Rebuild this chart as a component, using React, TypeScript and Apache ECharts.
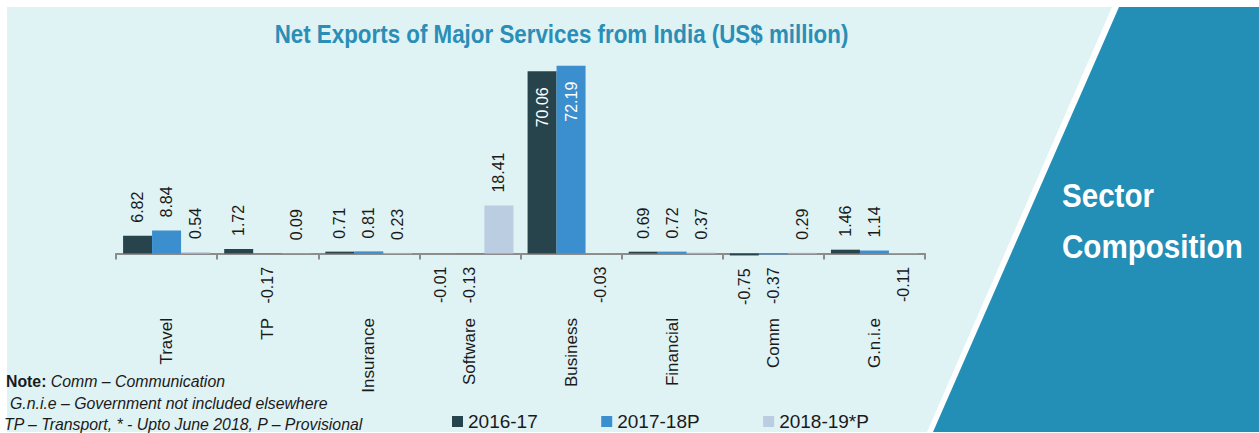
import React, { useEffect, useRef } from "react";
import * as echarts from "echarts";

const categories = ["Travel", "TP", "Insurance", "Software", "Business", "Financial", "Comm", "G.n.i.e"];
const seriesNames = ["2016-17", "2017-18P", "2018-19*P"];
const fy1617 = [6.82, 1.72, 0.71, -0.01, 70.06, 0.69, -0.75, 1.46];
const fy1718 = [8.84, -0.17, 0.81, -0.13, 72.19, 0.72, -0.37, 1.14];
const fy1819 = [0.54, 0.09, 0.23, 18.41, -0.03, 0.37, 0.29, -0.11];
const seriesColors = ["#27434b", "#3b8fcf", "#bacde1"];

const titleText = "Net Exports of Major Services from India (US$ million)";
const noteLines = [
  "G.n.i.e – Government not included elsewhere",
  "TP – Transport, * - Upto June 2018, P – Provisional",
];

const FONT = "'Liberation Sans', Arial, sans-serif";

function toItems(values: number[]) {
  return values.map((v) => {
    if (v > 50) {
      return {
        value: v,
        label: { position: "insideTop", align: "right", verticalAlign: "middle", color: "#ffffff", distance: 16 },
      };
    }
    if (v < 0) {
      return {
        value: v,
        label: { position: "bottom", align: "right", verticalAlign: "middle", distance: 13 },
      };
    }
    return {
      value: v,
      label: { position: "top", align: "left", verticalAlign: "middle", distance: 13 },
    };
  });
}

export default function App() {
  const ref = useRef<HTMLDivElement>(null);
  useEffect(() => {
    if (!ref.current) return;
    const chart = echarts.init(ref.current, null, { renderer: "svg" });
    const allSeries = [fy1617, fy1718, fy1819];
    chart.setOption({
      animation: false,
      backgroundColor: "#ffffff",
      graphic: [
        {
          type: "polygon",
          z: -10,
          silent: true,
          shape: { points: [[7, 7], [1112, 7], [927, 432], [7, 432]] },
          style: { fill: "#dff2f4" },
        },
        {
          type: "polygon",
          z: -10,
          silent: true,
          shape: { points: [[1119, 7], [1259, 7], [1259, 432], [933, 432]] },
          style: { fill: "#238eb6" },
        },
        {
          type: "text",
          x: 561.5,
          y: 34,
          scaleX: 0.86,
          z: 10,
          style: {
            text: titleText,
            fill: "#2a8eb6",
            font: `bold 26px ${FONT}`,
            align: "center",
            textAlign: "center",
            verticalAlign: "middle",
            textVerticalAlign: "middle",
          },
        },
        {
          type: "text",
          x: 1062,
          y: 195,
          scaleX: 0.87,
          z: 10,
          style: {
            text: "Sector",
            fill: "#ffffff",
            font: `bold 34px ${FONT}`,
            align: "left",
            textAlign: "left",
            verticalAlign: "middle",
            textVerticalAlign: "middle",
          },
        },
        {
          type: "text",
          x: 1062,
          y: 246,
          scaleX: 0.87,
          z: 10,
          style: {
            text: "Composition",
            fill: "#ffffff",
            font: `bold 34px ${FONT}`,
            align: "left",
            textAlign: "left",
            verticalAlign: "middle",
            textVerticalAlign: "middle",
          },
        },
        {
          type: "text",
          x: 6,
          y: 381,
          scaleX: 0.96,
          z: 10,
          style: {
            text: "{b|Note:} {i|Comm – Communication}",
            fill: "#1a1a1a",
            font: `16.5px ${FONT}`,
            verticalAlign: "middle",
            textVerticalAlign: "middle",
            rich: {
              b: { fontWeight: "bold", fontSize: 16.5, fontFamily: FONT, fill: "#1a1a1a" },
              i: { fontStyle: "italic", fontSize: 16.5, fontFamily: FONT, fill: "#1a1a1a" },
            },
          },
        },
        {
          type: "text",
          x: 10,
          y: 402.5,
          scaleX: 0.96,
          z: 10,
          style: {
            text: noteLines[0],
            fill: "#1a1a1a",
            font: `italic 16.5px ${FONT}`,
            verticalAlign: "middle",
            textVerticalAlign: "middle",
          },
        },
        {
          type: "text",
          x: 4,
          y: 423.5,
          scaleX: 0.96,
          z: 10,
          style: {
            text: noteLines[1],
            fill: "#1a1a1a",
            font: `italic 16.5px ${FONT}`,
            verticalAlign: "middle",
            textVerticalAlign: "middle",
          },
        },
      ],
      legend: {
        left: 452,
        top: 412,
        padding: 0,
        icon: "rect",
        itemWidth: 11,
        itemHeight: 11,
        itemGap: 63.5,
        textStyle: { fontSize: 19, color: "#1a1a1a", fontFamily: FONT },
        data: seriesNames,
      },
      grid: { left: 116, width: 809, top: 45.4, height: 234.1, containLabel: false },
      xAxis: {
        type: "category",
        data: categories,
        axisLine: { show: true, onZero: true, lineStyle: { color: "#8c8c8c", width: 2 } },
        axisTick: { show: true, length: 6, lineStyle: { color: "#8c8c8c", width: 2 } },
        axisLabel: {
          interval: 0,
          rotate: 90,
          margin: 38.5,
          fontSize: 17,
          color: "#1a1a1a",
          fontFamily: FONT,
        },
        splitLine: { show: false },
      },
      yAxis: {
        type: "value",
        min: -10,
        max: 80,
        show: false,
        splitLine: { show: false },
      },
      series: allSeries.map((vals, i) => ({
        name: seriesNames[i],
        type: "bar",
        barGap: "0%",
        barCategoryGap: "14%",
        itemStyle: { color: seriesColors[i] },
        label: {
          show: true,
          rotate: 90,
          fontSize: 16,
          color: "#1a1a1a",
          fontFamily: FONT,
          formatter: (p: any) => Number(p.value).toFixed(2),
        },
        data: toItems(vals),
      })),
    });
    return () => chart.dispose();
  }, []);
  return (
    <div
      ref={ref}
      style={{ position: "absolute", left: 0, top: 0, width: 1259, height: 433 }}
    />
  );
}
